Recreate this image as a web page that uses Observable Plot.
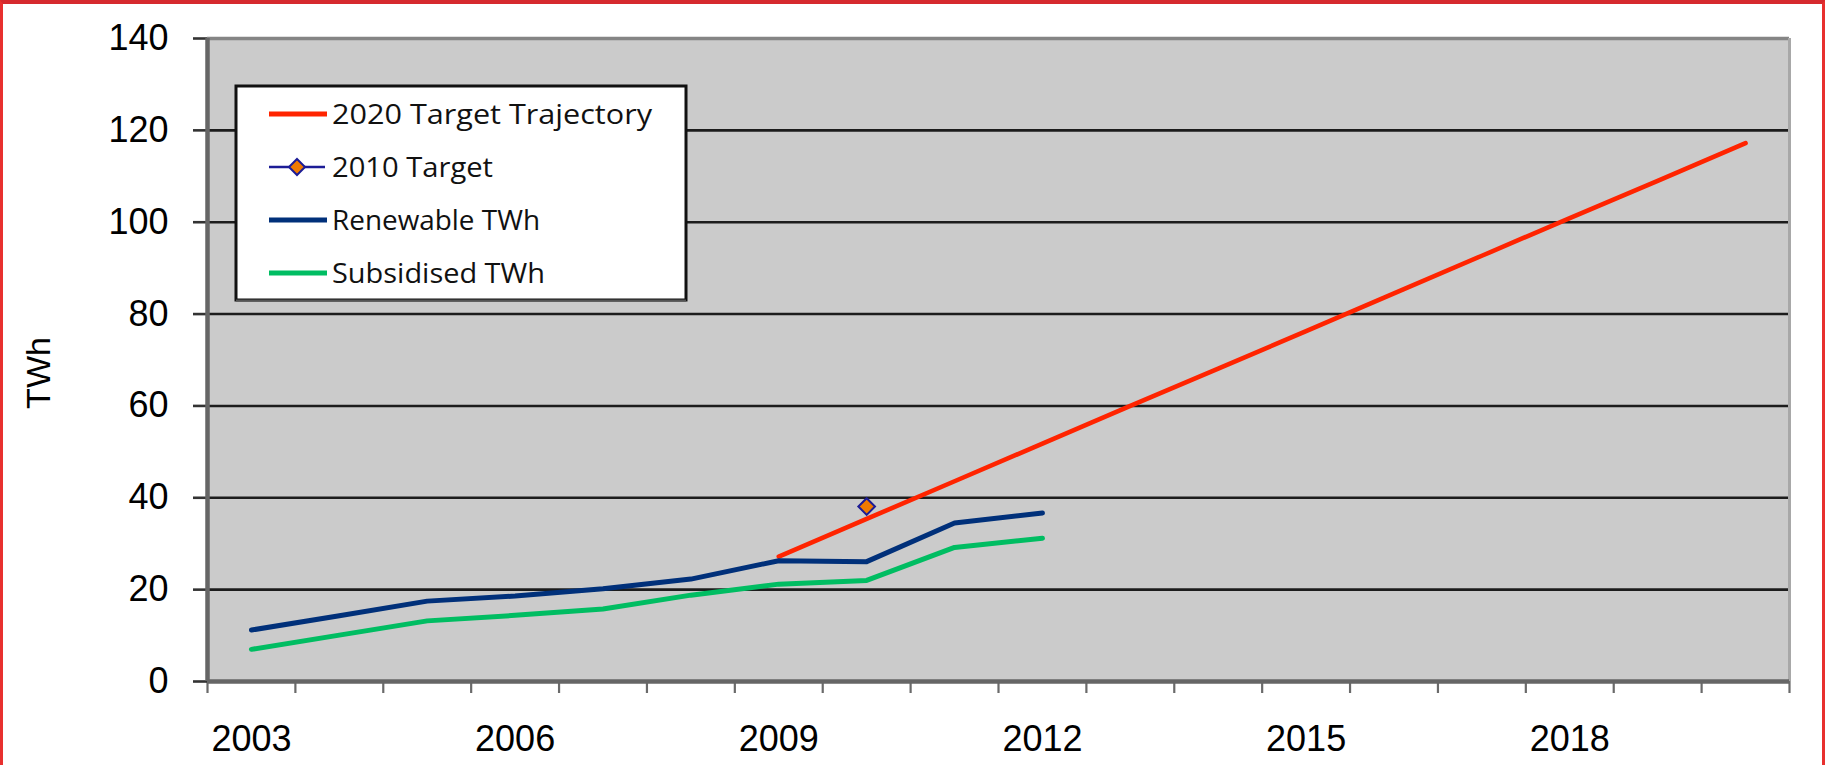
<!DOCTYPE html>
<html>
<head>
<meta charset="utf-8">
<script src="https://cdn.jsdelivr.net/npm/d3@7"></script>
<script src="https://cdn.jsdelivr.net/npm/@observablehq/plot@0.6"></script>
<style>
  html, body { margin: 0; padding: 0; background: #fff; }
  #wrap { position: relative; width: 1825px; height: 765px; overflow: hidden; background: #fff; }
  #frameBorder { position: absolute; left: 0; top: 0; width: 1825px; height: 765px; box-sizing: border-box;
    border-top: 4px solid #d62a2e; border-left: 3px solid #e8302f; border-right: 3px solid #e8302f; pointer-events: none; }
  #ylabel { position: absolute; left: 38px; top: 373px; transform: translate(-50%, -50%) rotate(-90deg);
    font: 34px "Liberation Sans", Arial, sans-serif; color: #000; white-space: nowrap; }
  #legend { position: absolute; left: 234px; top: 84px; }
</style>
</head>
<body>
<div id="wrap"></div>
<script>
// ---- data ----
const years = [2003, 2004, 2005, 2006, 2007, 2008, 2009, 2010, 2011, 2012];
const renewable = [11.2, 14.3, 17.5, 18.6, 20.2, 22.3, 26.3, 26.1, 34.5, 36.7];
const subsidised = [7.0, 10.1, 13.2, 14.4, 15.8, 18.8, 21.2, 22.0, 29.2, 31.2];
const trajectoryYears = [2009, 2010, 2011, 2012, 2013, 2014, 2015, 2016, 2017, 2018, 2019, 2020];
const trajectory = [27.2, 35.4, 43.6, 51.8, 60.0, 68.1, 76.3, 84.5, 92.7, 100.9, 109.0, 117.2];
const targetYears = [2010];
const targetValues = [38.1];
const categoryYears = [2003, 2004, 2005, 2006, 2007, 2008, 2009, 2010, 2011, 2012, 2013, 2014, 2015, 2016, 2017, 2018, 2019, 2020];
const xLabelYears = [2003, 2006, 2009, 2012, 2015, 2018];
const yTicks = [0, 20, 40, 60, 80, 100, 120, 140];
const seriesNames = ["2020 Target Trajectory", "2010 Target", "Renewable TWh", "Subsidised TWh"];
const seriesColors = ["#ff2400", "#1c1c96", "#00307a", "#00bd62"];

// ---- tables ----
const renewableData = years.map((year, i) => ({year, value: renewable[i]}));
const subsidisedData = years.map((year, i) => ({year, value: subsidised[i]}));
const trajectoryData = trajectoryYears.map((year, i) => ({year, value: trajectory[i]}));
const targetData = targetYears.map((year, i) => ({year, value: targetValues[i]}));
// category boundaries (Excel category axis tick marks sit between years)
const boundaries = categoryYears.map(y => y - 0.5).concat([categoryYears[categoryYears.length - 1] + 0.5]);

const chart = Plot.plot({
  width: 1825,
  height: 765,
  marginLeft: 207,
  marginRight: 36,
  marginTop: 38,
  marginBottom: 84,
  x: {domain: [boundaries[0], boundaries[boundaries.length - 1]], label: null},
  y: {domain: [0, 140], label: null},
  style: {fontFamily: "'Liberation Sans', Arial, sans-serif", background: "transparent", color: "#000"},
  marks: [
    Plot.frame({fill: "#cbcbcb", stroke: null}),
    Plot.ruleY(yTicks.filter(v => v > 0 && v < 140), {stroke: "#1c1c1c", strokeWidth: 2.6}),
    Plot.ruleY([140], {stroke: "#858585", strokeWidth: 3.5}),
    Plot.ruleX([boundaries[boundaries.length - 1]], {stroke: "#a8a8a8", strokeWidth: 3}),
    Plot.axisX({ticks: boundaries, tickSize: 12, tickFormat: () => "", stroke: "#6a6a6a", strokeWidth: 2.2, label: null}),
    Plot.axisX({ticks: xLabelYears, tickSize: 0, tickPadding: 44, fontSize: 36, tickFormat: d => String(d), label: null}),
    Plot.axisY({ticks: yTicks, tickSize: 14, tickPadding: 25, fontSize: 36, stroke: "#333", strokeWidth: 2.6, label: null}),
    Plot.ruleX([boundaries[0]], {stroke: "#666", strokeWidth: 4.5}),
    Plot.ruleY([0], {stroke: "#666", strokeWidth: 4.5}),
    Plot.line(subsidisedData, {x: "year", y: "value", stroke: seriesColors[3], strokeWidth: 5}),
    Plot.line(trajectoryData, {x: "year", y: "value", stroke: seriesColors[0], strokeWidth: 4.6}),
    Plot.line(renewableData, {x: "year", y: "value", stroke: seriesColors[2], strokeWidth: 5}),
    Plot.dot(targetData, {x: "year", y: "value", symbol: "diamond2", r: 7.5, fill: "#f07a00", stroke: seriesColors[1], strokeWidth: 2})
  ]
});

const wrap = document.getElementById("wrap");
chart.style.position = "absolute";
chart.style.left = "0px";
chart.style.top = "0px";
wrap.appendChild(chart);

// y axis title
const yl = document.createElement("div");
yl.id = "ylabel";
yl.textContent = "TWh";
wrap.appendChild(yl);

// legend (inside the plot area, as in the reference)
const legendW = 452, legendH = 216, rowH = 53;
const ns = "http://www.w3.org/2000/svg";
const lg = document.createElementNS(ns, "svg");
lg.setAttribute("id", "legend");
lg.setAttribute("width", legendW + 4);
lg.setAttribute("height", legendH + 4);
lg.style.position = "absolute";
lg.style.left = "234px";
lg.style.top = "84px";
let html = `<rect x="2" y="2" width="${legendW - 2}" height="${legendH - 2}" fill="#fff" stroke="#111" stroke-width="3"/>`;
html += `<line x1="2" y1="${legendH + 0.5}" x2="${legendW}" y2="${legendH + 0.5}" stroke="#555" stroke-width="2"/>`;
const textLens = [320, 161, 208, 213];
seriesNames.forEach((name, i) => {
  const cy = 30 + i * rowH;
  if (i === 1) {
    html += `<line x1="35" y1="${cy}" x2="91" y2="${cy}" stroke="${seriesColors[1]}" stroke-width="2.5"/>`;
    html += `<path d="M63 ${cy - 8} L71 ${cy} L63 ${cy + 8} L55 ${cy} Z" fill="#f07a00" stroke="${seriesColors[1]}" stroke-width="2"/>`;
  } else {
    html += `<line x1="35" y1="${cy}" x2="93" y2="${cy}" stroke="${seriesColors[i]}" stroke-width="5"/>`;
  }
  html += `<text x="98" y="${cy}" dy="0.36em" font-family="'Open Sans', 'DejaVu Sans', sans-serif" font-size="28" fill="#111" textLength="${textLens[i]}" lengthAdjust="spacingAndGlyphs">${name}</text>`;
});
lg.innerHTML = html;
wrap.appendChild(lg);

const fb = document.createElement("div");
fb.id = "frameBorder";
wrap.appendChild(fb);
</script>
</body>
</html>
